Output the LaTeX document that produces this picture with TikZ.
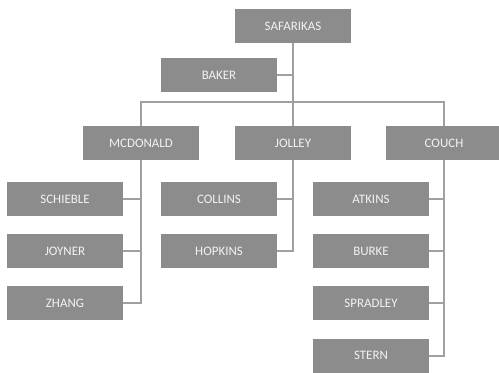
\documentclass[tikz,border=0pt]{standalone}
\usepackage{fontspec}
\setmainfont{Carlito}
\definecolor{boxgray}{HTML}{8C8C8C}
\definecolor{linegray}{HTML}{A0A0A0}
\definecolor{txtwhite}{HTML}{F2F2F2}
\begin{document}
\begin{tikzpicture}[x=1bp,y=-1bp,
  person/.style={fill=boxgray,draw=none,minimum width=116bp,minimum height=34bp,inner sep=0pt,
    text=txtwhite,font=\fontsize{13}{15}\selectfont},
  conn/.style={draw=linegray,line width=2bp}]
\useasboundingbox (0,0) rectangle (499,372);
\node[person] (saf) at (293,26) {SAFARIKAS};
\node[person] (baker) at (219,75) {BAKER};
\node[person] (mcd) at (141,143) {MCDONALD};
\node[person] (jolley) at (293,143) {JOLLEY};
\node[person] (couch) at (444,143) {COUCH};
\node[person] (schieble) at (65,199) {SCHIEBLE};
\node[person] (joyner) at (65,251) {JOYNER};
\node[person] (zhang) at (65,303) {ZHANG};
\node[person] (collins) at (219,199) {COLLINS};
\node[person] (hopkins) at (219,251) {HOPKINS};
\node[person] (atkins) at (371,199) {ATKINS};
\node[person] (burke) at (371,251) {BURKE};
\node[person] (spradley) at (371,303) {SPRADLEY};
\node[person] (stern) at (371,355.5) {STERN};
\coordinate (bar) at (293,102);
\draw[conn] (saf.south) -- (jolley.north);
\draw[conn] (baker.east) -- (baker.east -| saf.south);
\draw[conn] (mcd.north) |- (bar) -| (couch.north);
\draw[conn] (mcd.south) |- (zhang.east);
\draw[conn] (schieble.east) -- (schieble.east -| mcd.south);
\draw[conn] (joyner.east) -- (joyner.east -| mcd.south);
\draw[conn] (jolley.south) |- (hopkins.east);
\draw[conn] (collins.east) -- (collins.east -| jolley.south);
\draw[conn] (couch.south) |- (stern.east);
\draw[conn] (atkins.east) -- (atkins.east -| couch.south);
\draw[conn] (burke.east) -- (burke.east -| couch.south);
\draw[conn] (spradley.east) -- (spradley.east -| couch.south);
\end{tikzpicture}
\end{document}
